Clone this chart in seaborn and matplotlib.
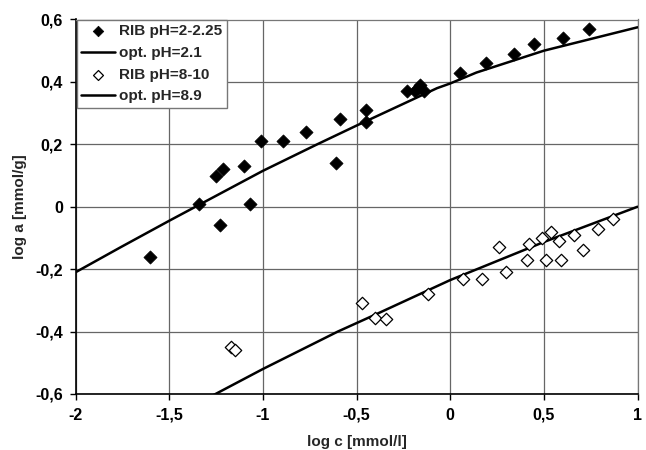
import matplotlib
matplotlib.use("Agg")
import matplotlib.pyplot as plt
import seaborn as sns
import pandas as pd
from matplotlib.ticker import FuncFormatter

# Data
acid_x = [-1.60, -1.34, -1.25, -1.21, -1.23, -1.10, -1.07, -1.01, -0.89, -0.77,
          -0.61, -0.59, -0.45, -0.45, -0.23, -0.19, -0.17, -0.16, -0.14, 0.05,
          0.19, 0.34, 0.45, 0.60, 0.74]
acid_y = [-0.16, 0.01, 0.10, 0.12, -0.06, 0.13, 0.01, 0.21, 0.21, 0.24,
          0.14, 0.28, 0.31, 0.27, 0.37, 0.37, 0.38, 0.39, 0.37, 0.43,
          0.46, 0.49, 0.52, 0.54, 0.57]

base_x = [-1.17, -1.15, -0.47, -0.40, -0.34, -0.12, 0.07, 0.17, 0.26, 0.30,
          0.41, 0.42, 0.49, 0.51, 0.54, 0.58, 0.59, 0.66, 0.71, 0.79, 0.87]
base_y = [-0.45, -0.46, -0.31, -0.355, -0.36, -0.28, -0.23, -0.23, -0.13, -0.21,
          -0.17, -0.12, -0.10, -0.17, -0.08, -0.11, -0.17, -0.09, -0.14, -0.07, -0.04]

fit1_x = [-2.0, -1.76, -1.5, -1.0, -0.71, -0.5, -0.07, 0.0, 0.14, 0.5, 1.0]
fit1_y = [-0.21, -0.13, -0.045, 0.115, 0.20, 0.26, 0.38, 0.395, 0.43, 0.50, 0.575]

fit2_x = [-1.30, -1.0, -0.6, -0.39, 0.0, 0.5, 1.0]
fit2_y = [-0.615, -0.52, -0.40, -0.343, -0.235, -0.113, 0.0]

x_ticks = [-2, -1.5, -1, -0.5, 0, 0.5, 1]
y_ticks = [-0.6, -0.4, -0.2, 0, 0.2, 0.4, 0.6]

sns.set_style("white")
plt.rcParams['font.family'] = ['Liberation Sans', 'DejaVu Sans']
plt.rcParams['font.weight'] = 'bold'

fig = plt.figure(figsize=(6.46, 4.5), dpi=100)
ax = fig.add_axes([75.5 / 646, 1 - 394 / 450, (637.5 - 75.5) / 646, (394 - 19.5) / 450])

df_a = pd.DataFrame({"x": acid_x, "y": acid_y})
df_b = pd.DataFrame({"x": base_x, "y": base_y})
df_f1 = pd.DataFrame({"x": fit1_x, "y": fit1_y})
df_f2 = pd.DataFrame({"x": fit2_x, "y": fit2_y})

sns.scatterplot(data=df_a, x="x", y="y", ax=ax, marker="D", s=45, color="black",
                edgecolor="black", linewidth=0.5, label="RIB pH=2-2.25", zorder=4)
sns.lineplot(data=df_f1, x="x", y="y", ax=ax, color="black", linewidth=1.8,
             label="opt. pH=2.1", sort=False, zorder=3)
sns.scatterplot(data=df_b, x="x", y="y", ax=ax, marker="D", s=40, facecolor="white",
                edgecolor="black", linewidth=0.9, label="RIB pH=8-10", zorder=4)
sns.lineplot(data=df_f2, x="x", y="y", ax=ax, color="black", linewidth=1.8,
             label="opt. pH=8.9", sort=False, zorder=3)

ax.set_xlim(-2, 1)
ax.set_ylim(-0.6, 0.6)
ax.set_xticks(x_ticks)
ax.set_yticks(y_ticks)

def fmt(v, pos):
    if abs(v) < 1e-9:
        return "0"
    return ("%g" % round(v, 2)).replace(".", ",")

ax.xaxis.set_major_formatter(FuncFormatter(fmt))
ax.yaxis.set_major_formatter(FuncFormatter(fmt))
ax.tick_params(axis="both", direction="out", length=4, width=1, labelsize=11.5,
               colors="black", pad=5, bottom=True, left=True)
ax.tick_params(axis="x", pad=6)
for lab in ax.get_xticklabels() + ax.get_yticklabels():
    lab.set_fontweight("bold")

ax.grid(True, color="#666666", linewidth=0.9)
ax.set_axisbelow(True)
for side in ["top", "right"]:
    ax.spines[side].set_color("#777777")
    ax.spines[side].set_linewidth(0.9)
for side in ["left", "bottom"]:
    ax.spines[side].set_color("black")
    ax.spines[side].set_linewidth(1.2)

ax.set_xlabel("log c [mmol/l]", fontsize=11, fontweight="bold", labelpad=9)
ax.set_ylabel("log a [mmol/g]", fontsize=11, fontweight="bold", labelpad=6)

leg = ax.legend(loc="upper left", bbox_to_anchor=(0.002, 0.999), frameon=True,
                fancybox=False, edgecolor="#777777", framealpha=1,
                prop={"weight": "bold", "size": 11}, handlelength=2.2,
                handletextpad=0.3, borderpad=0.3, labelspacing=0.5,
                borderaxespad=0.0, markerscale=0.8)
leg.get_frame().set_linewidth(1.0)

fig.savefig("out.png", dpi=100)
